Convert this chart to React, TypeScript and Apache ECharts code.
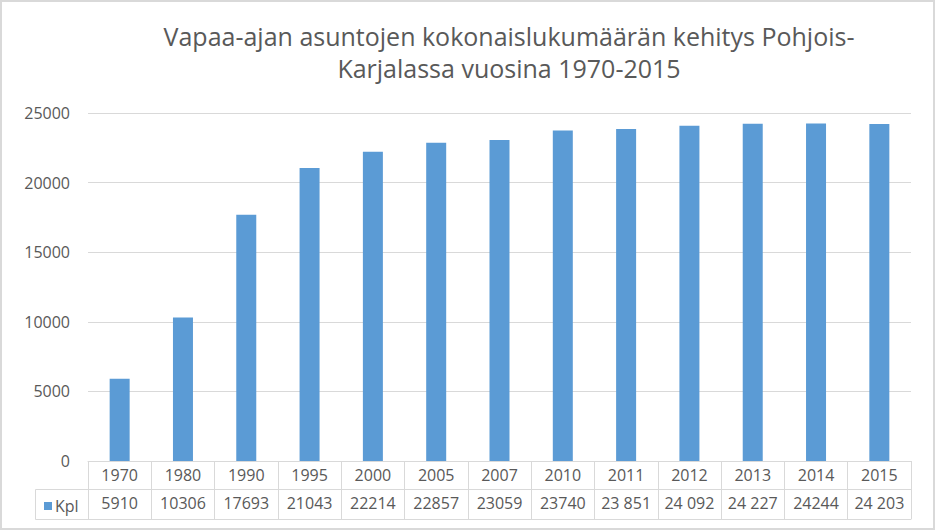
import React, { useEffect, useRef } from "react";
import * as echarts from "echarts";

const years = ["1970", "1980", "1990", "1995", "2000", "2005", "2007", "2010", "2011", "2012", "2013", "2014", "2015"];
const values = [5910, 10306, 17693, 21043, 22214, 22857, 23059, 23740, 23851, 24092, 24227, 24244, 24203];
const valueLabels = ["5910", "10306", "17693", "21043", "22214", "22857", "23059", "23740", "23 851", "24 092", "24 227", "24244", "24 203"];
const seriesName = "Kpl";
const titleText = "Vapaa-ajan asuntojen kokonaislukumäärän kehitys Pohjois-\nKarjalassa vuosina 1970-2015";

const FONT = "'Open Sans', Lato, sans-serif";
const TXT = "#595959";
const LINE = "#d9d9d9";

export default function App() {
  const ref = useRef<HTMLDivElement>(null);
  useEffect(() => {
    const chart = echarts.init(ref.current!, null, { renderer: "svg" });
    chart.setOption({
      animation: false,
      backgroundColor: "#ffffff",
      textStyle: { fontFamily: FONT },
      title: {
        text: titleText,
        left: 504,
        top: 15,
        textAlign: "center",
        textStyle: { fontFamily: FONT, fontSize: 25, fontWeight: "normal", color: TXT, lineHeight: 32 },
      },
      legend: {
        show: true,
        left: 39,
        top: 493,
        icon: "rect",
        itemWidth: 8,
        itemHeight: 8,
        itemGap: 4,
        data: [seriesName],
        textStyle: { fontFamily: FONT, fontSize: 16, color: TXT, padding: [0, 0, 0, -2] },
      },
      grid: { left: 88, right: 24, top: 113, bottom: 70 },
      xAxis: [
        {
          type: "category",
          data: years,
          position: "bottom",
          axisLine: { show: true, lineStyle: { color: LINE, width: 1 } },
          axisTick: { show: true, interval: 0, length: 58, lineStyle: { color: LINE } },
          axisLabel: { interval: 0, margin: 6, fontSize: 16, color: TXT, fontFamily: FONT },
        },
        {
          type: "category",
          data: years,
          position: "bottom",
          offset: 28,
          axisLine: { show: true, lineStyle: { color: LINE, width: 1 } },
          axisTick: { show: false },
          axisLabel: {
            interval: 0,
            margin: 6,
            fontSize: 16,
            color: TXT,
            fontFamily: FONT,
            formatter: (_v: string, i: number) => valueLabels[i],
          },
        },
        {
          type: "category",
          data: years,
          position: "bottom",
          offset: 58,
          axisLine: { show: true, lineStyle: { color: LINE, width: 1 } },
          axisTick: { show: false },
          axisLabel: { show: false },
        },
      ],
      yAxis: {
        type: "value",
        min: 0,
        max: 25000,
        interval: 5000,
        axisLine: { show: false },
        axisTick: { show: false },
        splitLine: { show: true, lineStyle: { color: LINE, width: 1 } },
        axisLabel: { margin: 18, fontSize: 16, color: TXT, fontFamily: FONT, formatter: (v: number) => String(v) },
      },
      series: [
        {
          name: seriesName,
          type: "bar",
          xAxisIndex: 0,
          data: values,
          barWidth: 20,
          itemStyle: { color: "#5B9BD5" },
        },
      ],
      graphic: [
        { type: "rect", shape: { x: 1, y: 1, width: 933, height: 528 }, style: { fill: "none", stroke: LINE, lineWidth: 2 }, silent: true },
        { type: "line", shape: { x1: 35.5, y1: 489.5, x2: 88, y2: 489.5 }, style: { stroke: LINE, lineWidth: 1 } },
        { type: "line", shape: { x1: 35.5, y1: 519.5, x2: 88, y2: 519.5 }, style: { stroke: LINE, lineWidth: 1 } },
        { type: "line", shape: { x1: 35.5, y1: 489.5, x2: 35.5, y2: 519.5 }, style: { stroke: LINE, lineWidth: 1 } },
      ],
    });
    return () => chart.dispose();
  }, []);
  return <div ref={ref} style={{ position: "absolute", left: 0, top: 0, width: 935, height: 531 }} />;
}
